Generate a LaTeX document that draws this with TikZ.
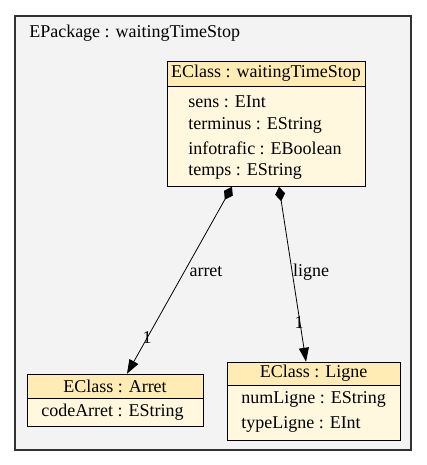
\documentclass[tikz,border=0pt]{standalone}
\usepackage{fontspec}
\setmainfont{Liberation Serif}
\usetikzlibrary{arrows.meta}

\definecolor{pkgbg}{RGB}{243,243,243}
\definecolor{pkgline}{RGB}{50,50,50}
\definecolor{headfill}{RGB}{255,236,180}
\definecolor{bodyfill}{RGB}{255,248,222}

\tikzset{
  every node/.style={font=\fontsize{13.5}{16}\selectfont},
  classhead/.style={draw, fill=headfill, inner sep=0pt},
  classbody/.style={draw, fill=bodyfill, inner sep=0pt, anchor=north},
  attr/.style={anchor=west, inner sep=0.75pt},
  lbl/.style={inner sep=0.75pt},
  comp/.style={{Diamond[length=11pt,width=7.5pt]}-{Triangle[length=10.5pt,width=7.5pt]}, line width=0.6pt}
}

\begin{document}
\begin{tikzpicture}[x=0.75pt,y=0.75pt,yscale=-1,xscale=1]
\useasboundingbox (0,0) rectangle (427,465);

%Package frame
\draw [pkgline, fill=pkgbg, line width=0.8pt] (15,16) rectangle (411,450);
\node (pkgname) [attr] at (28,33) {EPackage : waitingTimeStop};

%Class: waitingTimeStop
\node (stophead) [classhead, minimum width=148.5pt, minimum height=18.75pt] at (266,73.5) {EClass : waitingTimeStop};
\node (stop) [classbody, minimum width=148.5pt, minimum height=75pt] at (stophead.south) {};
\node (sens) [attr] at (187,102) {sens : EInt};
\node (terminus) [attr] at (187,125) {terminus : EString};
\node (infotrafic) [attr] at (187,148) {infotrafic : EBoolean};
\node (temps) [attr] at (187,171) {temps : EString};

%Class: Arret
\node (arrethead) [classhead, minimum width=132pt, minimum height=18pt] at (115,386) {EClass : Arret};
\node (arret) [classbody, minimum width=132pt, minimum height=21pt] at (arrethead.south) {};
\node (codearret) [attr] at (40,412) {codeArret : EString};

%Class: Ligne
\node (lignehead) [classhead, minimum width=129.75pt, minimum height=17.25pt] at (313.5,373.5) {EClass : Ligne};
\node (ligne) [classbody, minimum width=129.75pt, minimum height=41.25pt] at (lignehead.south) {};
\node (numligne) [attr] at (240,399) {numLigne : EString};
\node (typeligne) [attr] at (240,424) {typeLigne : EInt};

%References
\draw [comp] ([xshift=-25.5pt]stop.south) -- ([xshift=9pt]arrethead.north);
\draw [comp] ([xshift=9.75pt]stop.south) -- ([xshift=-5.6pt]lignehead.north);

% Labels
\node (arretlbl) [lbl] at (206,272) {arret};
\node (arretmul) [lbl] at (147,338) {1};
\node (lignelbl) [lbl] at (311,272) {ligne};
\node (lignemul) [lbl] at (299,323) {1};

\end{tikzpicture}
\end{document}
